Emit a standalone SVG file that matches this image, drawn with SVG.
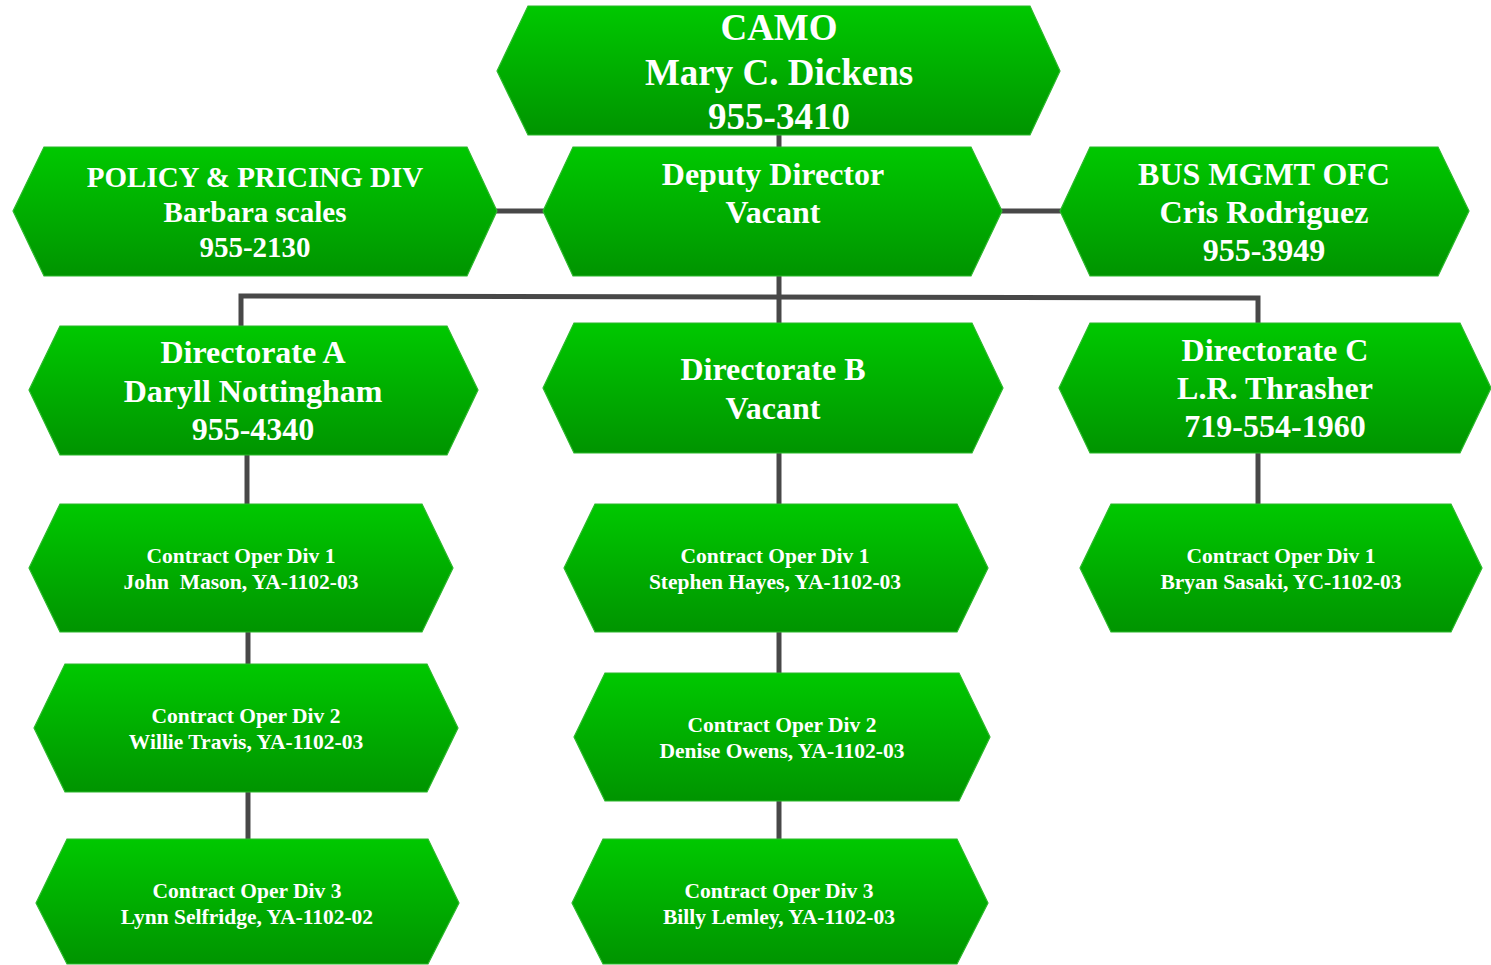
<svg xmlns="http://www.w3.org/2000/svg" width="1491" height="965" viewBox="0 0 1491 965">
<defs>
<linearGradient id="g" x1="0" y1="0" x2="0" y2="1">
<stop offset="0" stop-color="#00c800"/>
<stop offset="1" stop-color="#009400"/>
</linearGradient>
<style>
.n{fill:url(#g);stroke:#2cb82c;stroke-width:1.2}
.t{font-family:"Liberation Serif","Times New Roman",serif;font-weight:bold;fill:#fff;text-anchor:middle}
.big{font-size:37px}
.mid{font-size:32px}
.pol{font-size:29px}
.sm{font-size:21.5px}
.c{stroke:#484848;stroke-width:5;fill:none}
</style>
</defs>
<rect width="1491" height="965" fill="#fff"/>
<g id="connectors">
<line class="c" x1="779" y1="133" x2="779" y2="149"/>
<line class="c" x1="495" y1="211" x2="545" y2="211"/>
<line class="c" x1="1000" y1="211" x2="1062" y2="211"/>
<line class="c" x1="779" y1="274" x2="779" y2="325"/>
<polyline class="c" points="241,328 241,296 1258,298 1258,325"/>
<line class="c" x1="247" y1="453" x2="247" y2="506"/>
<line class="c" x1="248" y1="630" x2="248" y2="666"/>
<line class="c" x1="248" y1="790" x2="248" y2="841"/>
<line class="c" x1="779" y1="451" x2="779" y2="506"/>
<line class="c" x1="779" y1="630" x2="779" y2="675"/>
<line class="c" x1="779" y1="799" x2="779" y2="841"/>
<line class="c" x1="1258" y1="451" x2="1258" y2="506"/>
</g>
<g id="camo">
<polygon class="n" points="497,71 528,6 1030,6 1060,71 1030,135 528,135"/>
<text class="t big" x="779" y="40">CAMO</text>
<text class="t big" x="779" y="85">Mary C. Dickens</text>
<text class="t big" x="779" y="129">955-3410</text>
</g>
<g id="policy">
<polygon class="n" points="13,211 44,147 467,147 497,211 467,276 44,276"/>
<text class="t pol" x="255" y="187">POLICY &amp; PRICING DIV</text>
<text class="t pol" x="255" y="222">Barbara scales</text>
<text class="t pol" x="255" y="257">955-2130</text>
</g>
<g id="deputy">
<polygon class="n" points="543,211 573,147 971,147 1002,211 971,276 573,276"/>
<text class="t mid" x="773" y="185">Deputy Director</text>
<text class="t mid" x="773" y="223">Vacant</text>
</g>
<g id="bus">
<polygon class="n" points="1060,211 1090,147 1438,147 1469,211 1438,276 1090,276"/>
<text class="t mid" x="1264" y="185">BUS MGMT OFC</text>
<text class="t mid" x="1264" y="223">Cris Rodriguez</text>
<text class="t mid" x="1264" y="261">955-3949</text>
</g>
<g id="dirA">
<polygon class="n" points="29,390 60,326 447,326 478,390 447,455 60,455"/>
<text class="t mid" x="253" y="363">Directorate A</text>
<text class="t mid" x="253" y="402">Daryll Nottingham</text>
<text class="t mid" x="253" y="440">955-4340</text>
</g>
<g id="dirB">
<polygon class="n" points="543,388 574,323 972,323 1003,388 972,453 574,453"/>
<text class="t mid" x="773" y="380">Directorate B</text>
<text class="t mid" x="773" y="419">Vacant</text>
</g>
<g id="dirC">
<polygon class="n" points="1059,388 1090,323 1460,323 1491,388 1460,453 1090,453"/>
<text class="t mid" x="1275" y="361">Directorate C</text>
<text class="t mid" x="1275" y="399">L.R. Thrasher</text>
<text class="t mid" x="1275" y="437">719-554-1960</text>
</g>
<g id="a1">
<polygon class="n" points="29,568 60,504 422,504 453,568 422,632 60,632"/>
<text class="t sm" x="241" y="563">Contract Oper Div 1</text>
<text class="t sm" x="241" y="589" xml:space="preserve">John  Mason, YA-1102-03</text>
</g>
<g id="a2">
<polygon class="n" points="34,728 65,664 427,664 458,728 427,792 65,792"/>
<text class="t sm" x="246" y="723">Contract Oper Div 2</text>
<text class="t sm" x="246" y="749">Willie Travis, YA-1102-03</text>
</g>
<g id="a3">
<polygon class="n" points="36,903 67,839 428,839 459,903 428,964 67,964"/>
<text class="t sm" x="247" y="898">Contract Oper Div 3</text>
<text class="t sm" x="247" y="924">Lynn Selfridge, YA-1102-02</text>
</g>
<g id="b1">
<polygon class="n" points="564,568 595,504 957,504 988,568 957,632 595,632"/>
<text class="t sm" x="775" y="563">Contract Oper Div 1</text>
<text class="t sm" x="775" y="589">Stephen Hayes, YA-1102-03</text>
</g>
<g id="b2">
<polygon class="n" points="574,737 605,673 959,673 990,737 959,801 605,801"/>
<text class="t sm" x="782" y="732">Contract Oper Div 2</text>
<text class="t sm" x="782" y="758">Denise Owens, YA-1102-03</text>
</g>
<g id="b3">
<polygon class="n" points="572,903 603,839 957,839 988,903 957,964 603,964"/>
<text class="t sm" x="779" y="898">Contract Oper Div 3</text>
<text class="t sm" x="779" y="924">Billy Lemley, YA-1102-03</text>
</g>
<g id="c1">
<polygon class="n" points="1080,568 1111,504 1451,504 1482,568 1451,632 1111,632"/>
<text class="t sm" x="1281" y="563">Contract Oper Div 1</text>
<text class="t sm" x="1281" y="589">Bryan Sasaki, YC-1102-03</text>
</g>
</svg>
